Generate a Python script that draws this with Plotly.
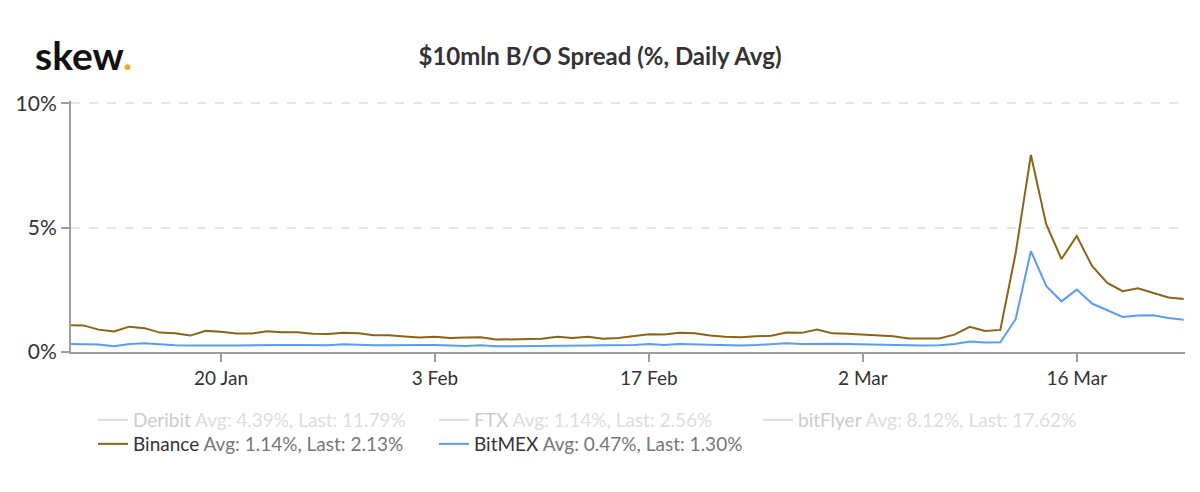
import pandas as pd
import plotly.graph_objects as go

dates = pd.date_range("2020-01-10", periods=74, freq="D")

binance = [1.08, 1.07, 0.90, 0.83, 1.02, 0.96, 0.78, 0.75, 0.66, 0.85,
           0.81, 0.74, 0.74, 0.83, 0.79, 0.79, 0.73, 0.72, 0.77, 0.75,
           0.67, 0.67, 0.62, 0.58, 0.61, 0.56, 0.58, 0.59, 0.50, 0.50,
           0.51, 0.53, 0.61, 0.56, 0.61, 0.53, 0.56, 0.65, 0.71, 0.70,
           0.77, 0.75, 0.66, 0.61, 0.59, 0.63, 0.65, 0.78, 0.77, 0.90,
           0.75, 0.73, 0.70, 0.65, 0.63, 0.54, 0.53, 0.54, 0.70, 1.01,
           0.85, 0.89, 3.97, 7.93, 5.14, 3.74, 4.67, 3.46, 2.78, 2.45,
           2.56, 2.38, 2.19, 2.13]

bitmex = [0.32, 0.31, 0.30, 0.23, 0.32, 0.35, 0.30, 0.27, 0.26, 0.27,
          0.26, 0.26, 0.27, 0.30, 0.28, 0.28, 0.27, 0.27, 0.31, 0.28,
          0.27, 0.27, 0.29, 0.28, 0.28, 0.26, 0.24, 0.27, 0.23, 0.23,
          0.23, 0.24, 0.25, 0.25, 0.26, 0.27, 0.27, 0.28, 0.32, 0.28,
          0.32, 0.30, 0.28, 0.27, 0.26, 0.28, 0.30, 0.35, 0.32, 0.34,
          0.33, 0.32, 0.30, 0.28, 0.28, 0.27, 0.26, 0.27, 0.32, 0.42,
          0.38, 0.39, 1.32, 4.06, 2.66, 2.04, 2.51, 1.95, 1.68, 1.41,
          1.47, 1.48, 1.37, 1.30]

# hidden (legend-only) series: only their last value is known (from legend)
deribit_last = [11.79]
ftx_last = [2.56]
bitflyer_last = [17.62]

y_ticks = [0, 5, 10]
y_tick_text = ["0%", "5%", "10%"]

legend_stats = {
    "Deribit": ("4.39%", "11.79%"),
    "FTX": ("1.14%", "2.56%"),
    "bitFlyer": ("8.12%", "17.62%"),
    "Binance": ("1.14%", "2.13%"),
    "BitMEX": ("0.47%", "1.30%"),
}

FONT = "Lato"


def label(name, hidden):
    avg, last = legend_stats[name]
    if hidden:
        c1, c2 = "#9a9a9a", "#bcbcbc"
    else:
        c1, c2 = "#333333", "#777777"
    return (f"<span style='color:{c1}'>{name}</span> "
            f"<span style='color:{c2}'>Avg: {avg}, Last: {last}</span>")


fig = go.Figure()

series = [
    ("Deribit", [dates[-1]], deribit_last, "#bbbbbb", True, "legend"),
    ("FTX", [dates[-1]], ftx_last, "#bbbbbb", True, "legend2"),
    ("bitFlyer", [dates[-1]], bitflyer_last, "#bbbbbb", True, "legend3"),
    ("Binance", dates, binance, "#8b6419", False, "legend4"),
    ("BitMEX", dates, bitmex, "#5b9cf6", False, "legend5"),
]

for name, xs, vals, color, hidden, leg in series:
    fig.add_trace(go.Scatter(
        x=xs,
        y=vals,
        mode="lines",
        name=label(name, hidden),
        line=dict(color=color, width=2),
        visible="legendonly" if hidden else True,
        legend=leg,
        hoverinfo="skip",
    ))

L, R, T, B = 71, 15, 101, 140
W, H = 1200, 492
pw = W - L - R
ph = H - T - B


def px_x(px):
    return (px - L) / pw


def px_y(py):
    return 1 - (py - T) / ph


leg_common = dict(bgcolor="rgba(0,0,0,0)", font=dict(family=FONT, size=19, color="#333333"),
                  xanchor="left", yanchor="middle", itemwidth=30, orientation="h")

fig.update_layout(
    width=W, height=H,
    margin=dict(l=L, r=R, t=T, b=B),
    paper_bgcolor="white",
    plot_bgcolor="white",
    font=dict(family=FONT, color="#333333"),
    title=dict(text="<b>$10mln B/O Spread (%, Daily Avg)</b>", x=0.5, xanchor="center",
               y=1 - 57 / H, yanchor="middle",
               font=dict(family=FONT, size=24, color="#333333")),
    legend=dict(x=px_x(93), y=px_y(420), **leg_common),
    legend2=dict(x=px_x(434), y=px_y(420), **leg_common),
    legend3=dict(x=px_x(758), y=px_y(420), **leg_common),
    legend4=dict(x=px_x(93), y=px_y(444), **leg_common),
    legend5=dict(x=px_x(434), y=px_y(444), **leg_common),
    xaxis=dict(
        type="date",
        range=["2020-01-10 04:30", "2020-03-23 02:00"],
        tick0="2020-01-20", dtick=14 * 86400000,
        tickformat="%-d %b",
        showgrid=False, zeroline=False,
        showline=True, linecolor="#9e9e9e", linewidth=2,
        ticks="outside", ticklen=8, tickwidth=2, tickcolor="#9e9e9e",
        tickfont=dict(family=FONT, size=19, color="#333333"),
    ),
    yaxis=dict(
        range=[0, 10.1],
        tickmode="array", tickvals=y_ticks, ticktext=y_tick_text,
        showgrid=True, gridcolor="#e6e6e6", gridwidth=1.5, griddash="dash",
        zeroline=False,
        showline=True, linecolor="#9e9e9e", linewidth=2,
        ticks="outside", ticklen=8, tickwidth=2, tickcolor="#9e9e9e",
        tickfont=dict(family=FONT, size=21, color="#333333"),
    ),
    showlegend=True,
)

fig.add_annotation(
    text="<b>skew</b><span style='color:#f0a830'><b>.</b></span>",
    xref="paper", yref="paper", x=px_x(33), y=px_y(55),
    xanchor="left", yanchor="middle", showarrow=False,
    font=dict(family=FONT, size=39, color="#111111", weight=900),
)

fig.write_html("out.html")
